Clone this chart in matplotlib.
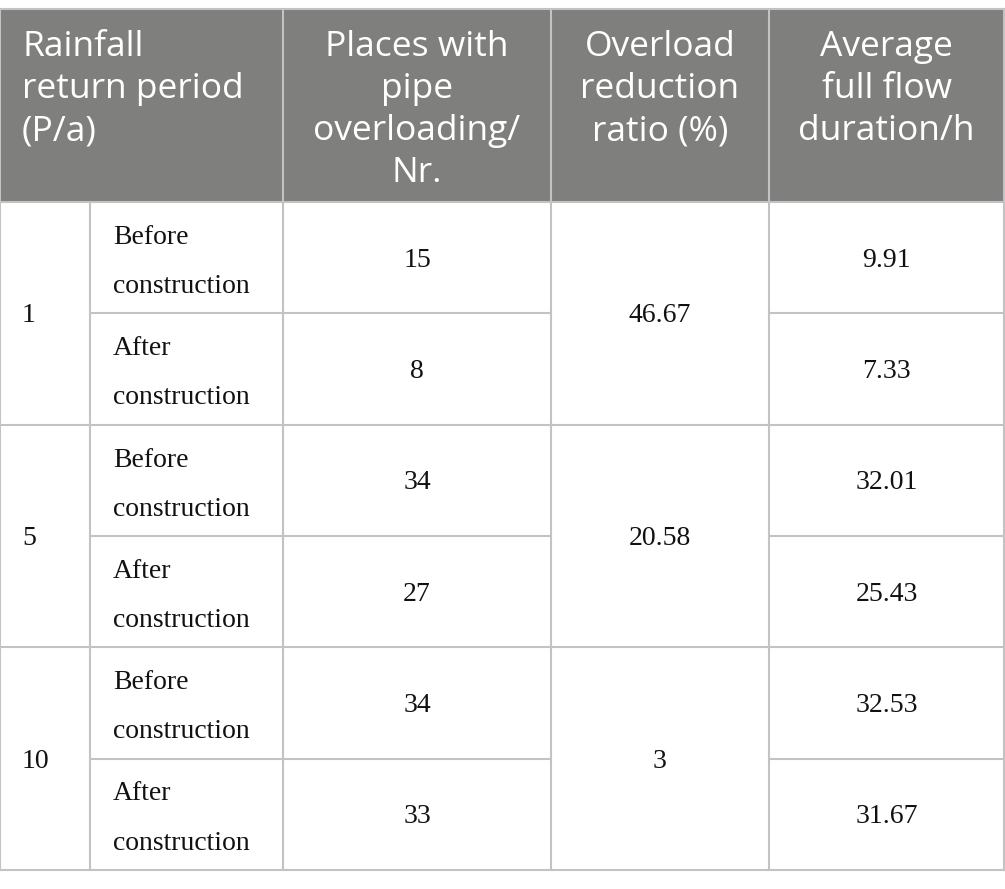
import matplotlib.pyplot as plt

# data
periods = ['1', '5', '10']
stages = ['Before\nconstruction', 'After\nconstruction']
places = [15, 8, 34, 27, 34, 33]
reduction = ['46.67', '20.58', '3']
duration = ['9.91', '7.33', '32.01', '25.43', '32.53', '31.67']
headers = [['Rainfall', 'return period', '(P/a)'],
           ['Places with', 'pipe', 'overloading/', 'Nr.'],
           ['Overload', 'reduction', 'ratio (%)'],
           ['Average', 'full flow', 'duration/h']]

# layout (pixels)
W, H = 1005, 889
col_x = [0, 90, 283, 551, 769, 1004]
top, head_bot, row_h = 9, 202, 111.3
grid_c = '#c3c3c3'
head_c = '#7f807e'
head_font = 'Open Sans'
body_font = 'Liberation Serif'
txt_c = '#111111'

fig = plt.figure(figsize=(W / 100, H / 100), dpi=100)
ax = fig.add_axes([0, 0, 1, 1])
ax.set_xlim(0, W)
ax.set_ylim(H, 0)
ax.axis('off')

n_rows = len(places)
bottom = head_bot + n_rows * row_h

# header background
ax.fill_between([col_x[0], col_x[-1]], top, head_bot, color=head_c, lw=0)

# header text
first_base = 56
line_gap = 42
for j, lines in enumerate(headers):
    if j == 0:
        x, ha = 22, 'left'
    else:
        x, ha = (col_x[j + 1] + col_x[j + 2]) / 2, 'center'
    for i, t in enumerate(lines):
        ax.text(x, first_base + i * line_gap, t, color='white', ha=ha, va='baseline',
                fontsize=25.5, family=head_font)

# grid lines
lw = 1.5
ax.plot([col_x[0], col_x[-1]], [top, top], color=grid_c, lw=lw)
ax.plot([col_x[0], col_x[-1]], [bottom, bottom], color=grid_c, lw=lw)
ax.plot([col_x[0], col_x[-1]], [head_bot, head_bot], color=grid_c, lw=lw)
for x in [col_x[0], col_x[2], col_x[3], col_x[4], col_x[5]]:
    ax.plot([x, x], [top, bottom], color=grid_c, lw=lw)
ax.plot([col_x[1], col_x[1]], [head_bot, bottom], color=grid_c, lw=lw)
for r in range(1, n_rows):
    y = head_bot + r * row_h
    if r % 2 == 0:
        ax.plot([col_x[0], col_x[-1]], [y, y], color=grid_c, lw=lw)
    else:
        ax.plot([col_x[1], col_x[3]], [y, y], color=grid_c, lw=lw)
        ax.plot([col_x[4], col_x[5]], [y, y], color=grid_c, lw=lw)

# body text
fs = 20
for g, p in enumerate(periods):
    yc = head_bot + (2 * g + 1) * row_h
    ax.text(22, yc + 9, p, ha='left', va='baseline', fontsize=fs, family=body_font, color=txt_c)
    ax.text((col_x[3] + col_x[4]) / 2, yc + 9, reduction[g], ha='center', va='baseline',
            fontsize=fs, family=body_font, color=txt_c)

for r in range(n_rows):
    y0 = head_bot + r * row_h
    s1, s2 = stages[r % 2].split('\n')
    ax.text(113, y0 + 42, s1, ha='left', va='baseline', fontsize=fs, family=body_font, color=txt_c)
    ax.text(113, y0 + 91, s2, ha='left', va='baseline', fontsize=fs, family=body_font, color=txt_c)
    yc = y0 + row_h / 2 + 9
    ax.text((col_x[2] + col_x[3]) / 2, yc, str(places[r]), ha='center', va='baseline',
            fontsize=fs, family=body_font, color=txt_c)
    ax.text((col_x[4] + col_x[5]) / 2, yc, duration[r], ha='center', va='baseline',
            fontsize=fs, family=body_font, color=txt_c)

fig.savefig('out.png', dpi=100, facecolor='white')
